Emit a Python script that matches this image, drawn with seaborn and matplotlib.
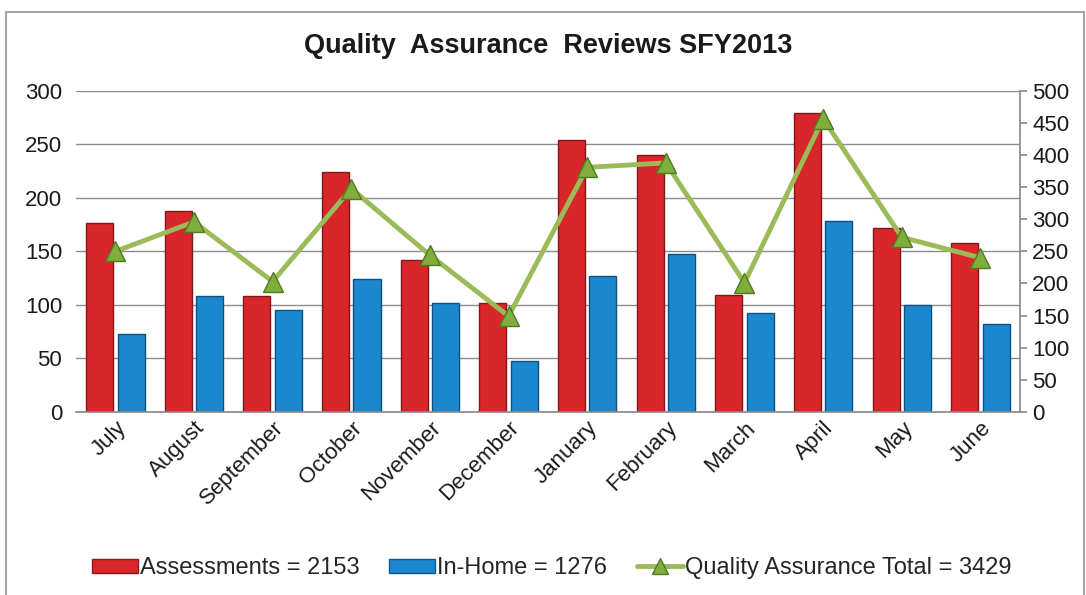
import matplotlib

matplotlib.use("Agg")

import matplotlib.pyplot as plt
import numpy as np
import pandas as pd
import seaborn as sns
from matplotlib.lines import Line2D
from matplotlib.patches import Patch, Rectangle

months = ["July", "August", "September", "October", "November", "December",
          "January", "February", "March", "April", "May", "June"]
assessments = [177, 188, 108, 224, 142, 102, 254, 240, 109, 279, 172, 158]
in_home = [73, 108, 95, 124, 102, 47, 127, 148, 92, 178, 100, 82]
totals = [a + b for a, b in zip(assessments, in_home)]

left_ticks = list(range(0, 301, 50))
right_ticks = list(range(0, 501, 50))

RED = "#d8262b"
BLUE = "#1b87cf"
GREEN = "#9bbb59"

sns.set_theme(style="white")
plt.rcParams["font.family"] = ["Liberation Sans", "DejaVu Sans"]

df = pd.DataFrame({
    "month": months * 2,
    "value": assessments + in_home,
    "series": ["Assessments"] * len(months) + ["In-Home"] * len(months),
})

fig = plt.figure(figsize=(10.86, 5.95), dpi=100)
ax = fig.add_axes([0.07, 0.308, 0.869, 0.539])

sns.barplot(data=df, x="month", y="value", hue="series", order=months,
            palette=[RED, BLUE], width=0.8, gap=0.14, ax=ax, legend=False,
            edgecolor="none", linewidth=0, saturation=1)
for patch in ax.patches:
    fc = patch.get_facecolor()
    patch.set_edgecolor(tuple(c * 0.6 for c in fc[:3]) + (1,))
    patch.set_linewidth(1.0)

ax.set_ylim(0, 300)
ax.set_yticks(left_ticks)
ax.set_xlim(-0.5, len(months) - 0.5)
ax.yaxis.grid(True, color="#8c8c8c", linewidth=1.0)
ax.set_axisbelow(True)
ax.set_xlabel("")
ax.set_ylabel("")
for s in ["left", "top", "right"]:
    ax.spines[s].set_visible(False)
ax.spines["bottom"].set_color("#8c8c8c")
ax.tick_params(axis="y", labelsize=16, length=0, pad=10, colors="#1a1a1a")
ax.tick_params(axis="x", labelsize=16, length=0, pad=4, colors="#1a1a1a")
plt.setp(ax.get_xticklabels(), rotation=45, ha="right", rotation_mode="anchor")

ax2 = ax.twinx()
sns.lineplot(x=np.arange(len(months)), y=totals, ax=ax2, color=GREEN,
             linewidth=3.5, marker="^", markersize=15,
             markerfacecolor="#7fae3c", markeredgecolor="#4f7a22",
             markeredgewidth=1, sort=False)
ax2.set_ylim(0, 500)
ax2.set_yticks(right_ticks)
ax2.set_xlim(-0.5, len(months) - 0.5)
for s in ["left", "top", "bottom"]:
    ax2.spines[s].set_visible(False)
ax2.spines["right"].set_color("#8c8c8c")
ax2.tick_params(axis="y", labelsize=16, length=5, direction="out",
                color="#8c8c8c", pad=4, colors="#1a1a1a")
ax2.tick_params(axis="y", which="both", color="#8c8c8c")

fig.text(0.505, 0.923, "Quality  Assurance  Reviews SFY2013", ha="center",
         va="center", fontsize=19.5, fontweight="bold", color="#1a1a1a")

handles = [
    Patch(facecolor=RED, edgecolor="#8b1a1a"),
    Patch(facecolor=BLUE, edgecolor="#0f5a8c"),
    Line2D([0], [0], color=GREEN, linewidth=3.5, marker="^", markersize=11,
           markerfacecolor="#7fae3c", markeredgecolor="#4f7a22"),
]
labels = [f"Assessments = {sum(assessments)}", f"In-Home = {sum(in_home)}",
          f"Quality Assurance Total = {sum(totals)}"]
fig.legend(handles, labels, loc="center", bbox_to_anchor=(0.508, 0.045),
           ncol=3, frameon=False, fontsize=17, handlelength=1.95,
           handleheight=0.55, handletextpad=0.1, columnspacing=1.25)

fig.add_artist(Rectangle((6 / 1086, -0.02), 1078 / 1086, 1 - 12 / 595 + 0.02,
                         transform=fig.transFigure, fill=False,
                         edgecolor="#a6a6a6", linewidth=1.5))

fig.savefig("out.png", dpi=100, facecolor="white")
